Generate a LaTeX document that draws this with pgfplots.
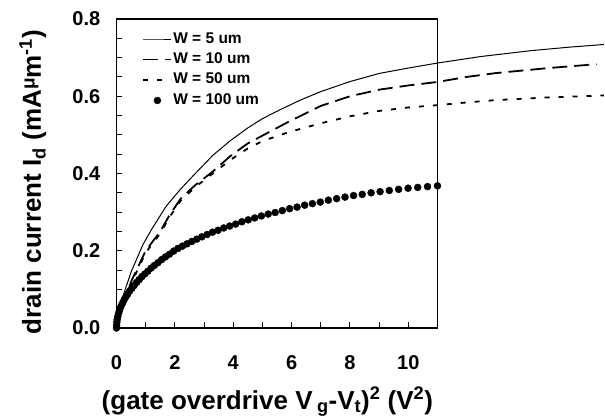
\documentclass[border=0pt]{standalone}
\usepackage{fontspec}
\setmainfont{Liberation Sans}
\usepackage{pgfplots}
\pgfplotsset{compat=1.18}

\newcommand{\lbl}{\bfseries\fontsize{26}{28}\selectfont}

\begin{document}
\begin{tikzpicture}
\begin{axis}[
    scale only axis,
    width=321pt, height=309pt,
    xmin=0, xmax=11, ymin=0, ymax=0.8,
    enlargelimits=false,
    clip=false,
    axis line style={line width=1.2pt},
    tick pos=left,
    tick align=inside,
    major tick length=6pt, minor tick length=6pt,
    every tick/.style={line width=1pt, black},
    xtick={0,2,4,6,8,10}, minor x tick num=1,
    ytick={0,0.2,0.4,0.6,0.8}, minor y tick num=3,
    yticklabel style={/pgf/number format/.cd, fixed, fixed zerofill, precision=1},
    /pgf/number format/assume math mode=true,
    ticklabel style={font=\bfseries\fontsize{20}{20}\selectfont, inner sep=0pt},
    xticklabel style={anchor=base},
    xticklabel shift=41pt,
    yticklabel shift=16pt,
    xlabel={\lbl (gate overdrive V\,\textsubscript{g}-V\textsubscript{t})\textsuperscript{2} (V\textsuperscript{2})},
    ylabel={\lbl drain current I\textsubscript{d} (mA\raisebox{0.45ex}{\fontsize{19}{19}\selectfont μ}m\textsuperscript{-1})},
    xlabel style={at={([yshift=-81pt]axis description cs:0.47,0)}, anchor=base, inner sep=0pt},
    ylabel style={at={([xshift=-70pt]axis description cs:0,0.4725)}, anchor=south, inner sep=0pt},
    legend image code/.code={\draw[mark repeat=2,mark phase=2,#1] plot coordinates {(0pt,0pt) (14pt,0pt) (28pt,0pt)};},
    legend style={draw=none, fill=none, inner sep=0pt, outer sep=0pt,
        at={([xshift=26pt,yshift=-12pt]axis description cs:0,1)}, anchor=north west,
        font=\bfseries\fontsize{15.5}{15.5}\selectfont,
        nodes={inner sep=1pt, text height=11pt, text depth=3pt},
        row sep=4.5pt,
        /tikz/every even column/.append style={column sep=3pt}},
    legend cell align=left,
]
\addplot[black, line width=1pt] coordinates {
 (0,0) (0.05,0.035) (0.15,0.065) (0.3,0.1) (0.5,0.145) (0.7,0.18) (0.9,0.215)
 (1.2,0.255) (1.7,0.315) (2.2,0.36) (2.7,0.4) (3.3,0.447) (3.9,0.485) (4.5,0.518)
 (5.0,0.542) (5.6,0.565) (6.3,0.59) (7.0,0.612) (8.0,0.638) (9.0,0.659) (10.0,0.673)
 (11.0,0.686) (12.5,0.703) (14.2,0.718) (15.5,0.727) (16.7,0.734)
};
\addplot[black, line width=1.8pt, dash pattern=on 15pt off 7pt] coordinates {
 (0,0) (0.1,0.03) (0.3,0.075) (0.5,0.12) (0.75,0.16) (1.0,0.2) (1.5,0.25) (1.8,0.29)
 (2.2,0.335) (2.7,0.37) (3.3,0.405) (3.9,0.445) (4.5,0.478) (5.0,0.498) (5.9,0.534)
 (7.0,0.575) (8.0,0.6) (9.0,0.617) (10.0,0.628) (11.0,0.637) (12.0,0.65) (13.0,0.66)
 (14.8,0.673) (16.45,0.683)
};
\addplot[black, line width=1.8pt, dash pattern=on 5pt off 9pt] coordinates {
 (0,0) (0.1,0.03) (0.3,0.072) (0.5,0.115) (0.75,0.155) (1.0,0.195) (1.5,0.245) (1.8,0.285)
 (2.2,0.33) (2.7,0.365) (3.3,0.4) (3.9,0.435) (4.5,0.465) (5.0,0.484) (5.9,0.507)
 (7.0,0.53) (8.0,0.548) (9.0,0.562) (10.0,0.571) (11.0,0.577) (12.0,0.584) (13.0,0.59)
 (14.8,0.597) (16.7,0.602)
};
\addplot[black, only marks, mark=*, mark size=3.5pt] coordinates {
 (0,0) (0.0027,0.007) (0.0107,0.015) (0.0242,0.022) (0.0430,0.029) (0.0671,0.037)
 (0.0967,0.044) (0.1316,0.052) (0.1719,0.059) (0.2175,0.066) (0.2685,0.074) (0.3249,0.081)
 (0.3867,0.088) (0.4538,0.096) (0.5263,0.103) (0.6042,0.110) (0.6875,0.118) (0.7760,0.125)
 (0.8701,0.133) (0.9694,0.140) (1.0741,0.147) (1.1842,0.155) (1.2996,0.162) (1.4206,0.169)
 (1.5468,0.177) (1.6783,0.184) (1.8152,0.191) (1.9575,0.199) (2.1054,0.206) (2.2584,0.212)
 (2.4168,0.218) (2.5805,0.224) (2.7496,0.230) (2.9244,0.236) (3.1043,0.242) (3.2895,0.248)
 (3.4801,0.253) (3.6760,0.259) (3.8777,0.264) (4.0844,0.269) (4.2965,0.275) (4.5139,0.280)
 (4.7367,0.285) (4.9653,0.290) (5.1989,0.295) (5.4378,0.299) (5.6820,0.304) (5.9317,0.309)
 (6.1872,0.313) (6.4475,0.318) (6.7133,0.322) (6.9844,0.326) (7.2609,0.331) (7.5433,0.335)
 (7.8305,0.339) (8.1231,0.343) (8.4210,0.346) (8.7243,0.350) (9.0336,0.353) (9.3477,0.356)
 (9.6671,0.359) (9.9919,0.362) (10.3221,0.364) (10.6583,0.366) (10.9992,0.368)
};
\legend{W = 5 um, W = 10 um, W = 50 um, W = 100 um}
\end{axis}
\pgfresetboundingbox
\path (-116.5pt,-92pt) rectangle (488.5pt,328pt);
\end{tikzpicture}
\end{document}
